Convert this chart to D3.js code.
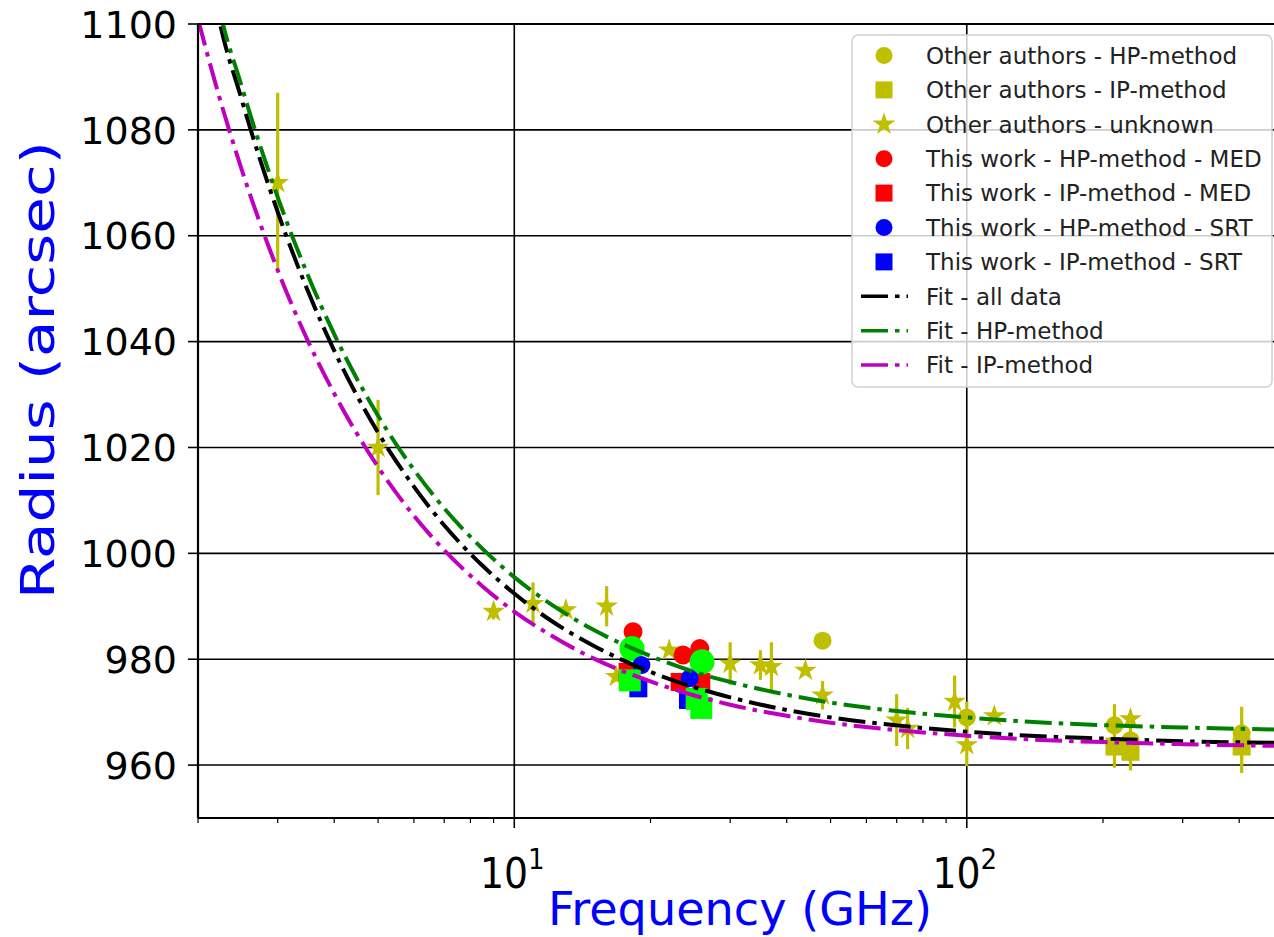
<!DOCTYPE html>
<html>
<head>
<meta charset="utf-8">
<script src="https://cdn.jsdelivr.net/npm/d3@7/dist/d3.min.js"></script>
<style>
  body { margin: 0; background: #fff; }
  svg { display: block; font-family: "DejaVu Sans", sans-serif; }
</style>
</head>
<body>
<svg id="chart" width="1274" height="937"></svg>
<script>
// ---- data ----
// other authors, unknown method (stars)
var starFreq = [3, 5, 9, 11, 13, 16, 16.8, 22, 30, 35, 37, 44, 48, 70, 74, 94, 100, 115, 230];
var starRad  = [1070, 1020, 989, 990.5, 989.3, 990, 976.7, 981.7, 979.2, 978.9, 978.6, 977.9, 973.2, 968.5, 966.9, 972, 963.8, 969.3, 968.7];
var starErr  = [17, 9, 1.5, 4, 1, 3.8, 0, 0, 4, 2.8, 4.6, 0, 2.7, 4.9, 3.9, 4.9, 4, 0, 0];
// other authors, HP-method (circles)
var hpFreq = [48, 100, 212, 230, 405];
var hpRad  = [983.5, 969, 967.5, 964.7, 966];
var hpErr  = [0, 3, 4, 3, 5];
// other authors, IP-method (squares)
var ipFreq = [212, 230, 405];
var ipRad  = [963.5, 962.5, 963.5];
var ipErr  = [4, 3.5, 5];
// this work
var medHpFreq = [18.3, 23.6, 25.7];
var medHpRad  = [985.2, 980.8, 982.0];
var medIpFreq = [17.8, 23.2, 25.9];
var medIpRad  = [977.6, 975.7, 975.7];
var srtHpFreq = [19.1, 24.4];
var srtHpRad  = [978.9, 976.4];
var srtIpFreq = [18.8, 24.2];
var srtIpRad  = [974.5, 972.3];
var avgHpFreq = [18.2, 26.0];
var avgHpRad  = [982.0, 979.5];
var avgIpFreq = [18.0, 25.3, 25.9];
var avgIpRad  = [976.0, 972.5, 970.8];
// fitted curves, sampled from the figure
var fitFreq = [2, 2.2, 2.5, 3, 3.5, 4, 5, 6, 7, 8.5, 10, 12, 15, 20, 25, 30, 40, 50, 70, 100, 150, 200, 300, 500];
var fitAll  = [1125, 1103.0, 1085.6, 1064.5, 1049.5, 1038.3, 1022.8, 1012.6, 1005.3, 997.7, 992.4, 987.4, 982.5, 977.6, 974.7, 972.8, 970.4, 969.0, 967.5, 966.3, 965.4, 965.0, 964.5, 964.2];
var fitHP   = [1127, 1105.2, 1088.1, 1067.3, 1052.5, 1041.4, 1026.0, 1015.8, 1008.5, 1000.9, 995.5, 990.5, 985.5, 980.6, 977.6, 975.7, 973.3, 971.8, 970.2, 969.0, 968.0, 967.55, 967.1, 966.7];
var fitIP   = [1100.9, 1087.9, 1072.4, 1053.5, 1040.1, 1030.2, 1016.3, 1007.1, 1000.6, 993.8, 989.0, 984.6, 980.1, 975.8, 973.15, 971.4, 969.3, 968.0, 966.6, 965.55, 964.7, 964.35, 963.95, 963.6];
var yTicks = [960, 980, 1000, 1020, 1040, 1060, 1080, 1100];
var xMajor = [10, 100];
var xMinor = [2, 3, 4, 5, 6, 7, 8, 9, 20, 30, 40, 50, 60, 70, 80, 90, 200, 300, 400];

var svg = d3.select("#chart");
var plotLeft = 198, plotTop = 24, plotBottom = 818;

var x = d3.scaleLog().domain([2, 500]).range([plotLeft, plotLeft + 452.5 * Math.log10(250)]);
var y = d3.scaleLinear().domain([950, 1100]).range([plotBottom, plotTop]);

svg.append("defs").append("clipPath").attr("id", "clip")
  .append("rect").attr("x", plotLeft).attr("y", plotTop)
  .attr("width", 1274 - plotLeft).attr("height", plotBottom - plotTop);

// grid
var grid = svg.append("g");
grid.selectAll(".gy").data(yTicks).enter().append("line")
  .attr("x1", plotLeft).attr("x2", 1274)
  .attr("y1", function (d) { return y(d); }).attr("y2", function (d) { return y(d); })
  .attr("stroke", "#000").attr("stroke-width", 1.6);
grid.selectAll(".gx").data(xMajor).enter().append("line")
  .attr("x1", function (d) { return x(d); }).attr("x2", function (d) { return x(d); })
  .attr("y1", plotTop).attr("y2", plotBottom)
  .attr("stroke", "#000").attr("stroke-width", 1.6);

var plot = svg.append("g").attr("clip-path", "url(#clip)");
var yellow = "#bfbf00";

function pts(fs, rs) {
  return fs.map(function (f, i) { return { f: f, r: rs[i] }; });
}

// error bars
function errBars(fs, rs, es) {
  plot.selectAll(null).data(fs.map(function (f, i) { return { f: f, r: rs[i], e: es[i] }; })
      .filter(function (d) { return d.e > 0; }))
    .enter().append("line")
    .attr("x1", function (d) { return x(d.f); }).attr("x2", function (d) { return x(d.f); })
    .attr("y1", function (d) { return y(d.r - d.e); }).attr("y2", function (d) { return y(d.r + d.e); })
    .attr("stroke", yellow).attr("stroke-width", 3.2);
}
errBars(starFreq, starRad, starErr);
errBars(hpFreq, hpRad, hpErr);
errBars(ipFreq, ipRad, ipErr);

var star = d3.symbol().type(d3.symbolStar).size(160);

function drawSeries(fs, rs, shape, color, size) {
  var sel = plot.append("g").selectAll(null).data(pts(fs, rs)).enter();
  if (shape === "circle") {
    sel.append("circle")
      .attr("cx", function (d) { return x(d.f); }).attr("cy", function (d) { return y(d.r); })
      .attr("r", size).attr("fill", color);
  } else if (shape === "square") {
    sel.append("rect")
      .attr("x", function (d) { return x(d.f) - size / 2; }).attr("y", function (d) { return y(d.r) - size / 2; })
      .attr("width", size).attr("height", size).attr("fill", color);
  } else {
    sel.append("path").attr("d", star)
      .attr("transform", function (d) { return "translate(" + x(d.f) + "," + y(d.r) + ")"; })
      .attr("fill", color);
  }
}

drawSeries(hpFreq, hpRad, "circle", yellow, 9);
drawSeries(ipFreq, ipRad, "square", yellow, 18);
drawSeries(starFreq, starRad, "star", yellow);
drawSeries(medHpFreq, medHpRad, "circle", "#ff0000", 9.5);
drawSeries(medIpFreq, medIpRad, "square", "#ff0000", 18);
drawSeries(avgHpFreq, avgHpRad, "circle", "#00ff00", 12.5);
drawSeries(srtHpFreq, srtHpRad, "circle", "#0000ff", 9);
drawSeries(srtIpFreq, srtIpRad, "square", "#0000ff", 18);
drawSeries(avgIpFreq, avgIpRad, "square", "#00ff00", 22);

// fits
var dash = "27,7,4.5,7";
var line = d3.line()
  .x(function (d) { return x(d.f); }).y(function (d) { return y(d.r); })
  .curve(d3.curveMonotoneX);
[[fitAll, "#000"], [fitHP, "#008000"], [fitIP, "#bf00bf"]].forEach(function (c) {
  plot.append("path").datum(pts(fitFreq, c[0]))
    .attr("d", line).attr("fill", "none")
    .attr("stroke", c[1]).attr("stroke-width", 4).attr("stroke-dasharray", dash);
});

// frame
svg.append("line").attr("x1", plotLeft).attr("x2", 1274).attr("y1", plotTop).attr("y2", plotTop).attr("stroke", "#000").attr("stroke-width", 2);
svg.append("line").attr("x1", plotLeft).attr("x2", 1274).attr("y1", plotBottom).attr("y2", plotBottom).attr("stroke", "#000").attr("stroke-width", 2.2);
svg.append("line").attr("x1", plotLeft).attr("x2", plotLeft).attr("y1", plotTop).attr("y2", plotBottom).attr("stroke", "#000").attr("stroke-width", 2.2);

// y axis ticks + labels
var yAxis = svg.append("g");
yAxis.selectAll("line").data(yTicks).enter().append("line")
  .attr("x1", plotLeft - 10).attr("x2", plotLeft)
  .attr("y1", function (d) { return y(d); }).attr("y2", function (d) { return y(d); })
  .attr("stroke", "#000").attr("stroke-width", 1.6);
yAxis.selectAll("text").data(yTicks).enter().append("text")
  .attr("x", 177).attr("y", function (d) { return y(d); })
  .attr("dy", "0.36em").attr("text-anchor", "end")
  .attr("font-size", 38).text(function (d) { return d; });

// x axis ticks
var xAxis = svg.append("g");
xAxis.selectAll(".maj").data(xMajor).enter().append("line")
  .attr("x1", function (d) { return x(d); }).attr("x2", function (d) { return x(d); })
  .attr("y1", plotBottom).attr("y2", plotBottom + 10)
  .attr("stroke", "#000").attr("stroke-width", 1.6);
xAxis.selectAll(".min").data(xMinor).enter().append("line")
  .attr("x1", function (d) { return x(d); }).attr("x2", function (d) { return x(d); })
  .attr("y1", plotBottom).attr("y2", plotBottom + 5)
  .attr("stroke", "#000").attr("stroke-width", 1.2);
var xl = xAxis.selectAll(".lab").data(xMajor).enter().append("text")
  .attr("x", function (d) { return x(d) - 2; }).attr("y", 888)
  .attr("text-anchor", "middle").attr("font-size", 42)
  .style("font-stretch", "condensed");
xl.append("tspan").text("10");
xl.append("tspan").attr("dy", -19).attr("font-size", 29)
  .text(function (d) { return Math.round(Math.log10(d)); });

// axis titles
svg.append("text").attr("x", 740).attr("y", 925).attr("text-anchor", "middle")
  .attr("font-size", 47).attr("fill", "#0000ff")
  .attr("textLength", 384).attr("lengthAdjust", "spacingAndGlyphs")
  .text("Frequency (GHz)");
svg.append("text").attr("transform", "translate(54,370) rotate(-90)")
  .attr("text-anchor", "middle").attr("font-size", 47).attr("fill", "#0000ff")
  .attr("textLength", 458).attr("lengthAdjust", "spacingAndGlyphs")
  .text("Radius (arcsec)");

// legend
var legendLabels = ["Other authors - HP-method", "Other authors - IP-method", "Other authors - unknown",
  "This work - HP-method - MED", "This work - IP-method - MED", "This work - HP-method - SRT",
  "This work - IP-method - SRT", "Fit - all data", "Fit - HP-method", "Fit - IP-method"];
var legendKeys = [["circle", yellow], ["square", yellow], ["star", yellow],
  ["circle", "#ff0000"], ["square", "#ff0000"], ["circle", "#0000ff"], ["square", "#0000ff"],
  ["line", "#000"], ["line", "#008000"], ["line", "#bf00bf"]];

var lg = svg.append("g");
lg.append("rect").attr("x", 852).attr("y", 35).attr("width", 420).attr("height", 352)
  .attr("rx", 6).attr("fill", "#fff").attr("fill-opacity", 0.8)
  .attr("stroke", "#d0d0d0").attr("stroke-width", 1.5);
legendLabels.forEach(function (t, i) {
  var cy = 55.5 + i * 34.4, k = legendKeys[i];
  if (k[0] === "circle") {
    lg.append("circle").attr("cx", 884).attr("cy", cy).attr("r", 8.5).attr("fill", k[1]);
  } else if (k[0] === "square") {
    lg.append("rect").attr("x", 875.5).attr("y", cy - 8.5).attr("width", 17).attr("height", 17).attr("fill", k[1]);
  } else if (k[0] === "star") {
    lg.append("path").attr("d", star).attr("transform", "translate(884," + cy + ")").attr("fill", k[1]);
  } else {
    lg.append("line").attr("x1", 861).attr("x2", 908).attr("y1", cy).attr("y2", cy)
      .attr("stroke", k[1]).attr("stroke-width", 3.5).attr("stroke-dasharray", dash);
  }
  lg.append("text").attr("x", 926).attr("y", cy).attr("dy", "0.36em")
    .attr("font-size", 23).attr("fill", "#222").text(t);
});
</script>
</body>
</html>
